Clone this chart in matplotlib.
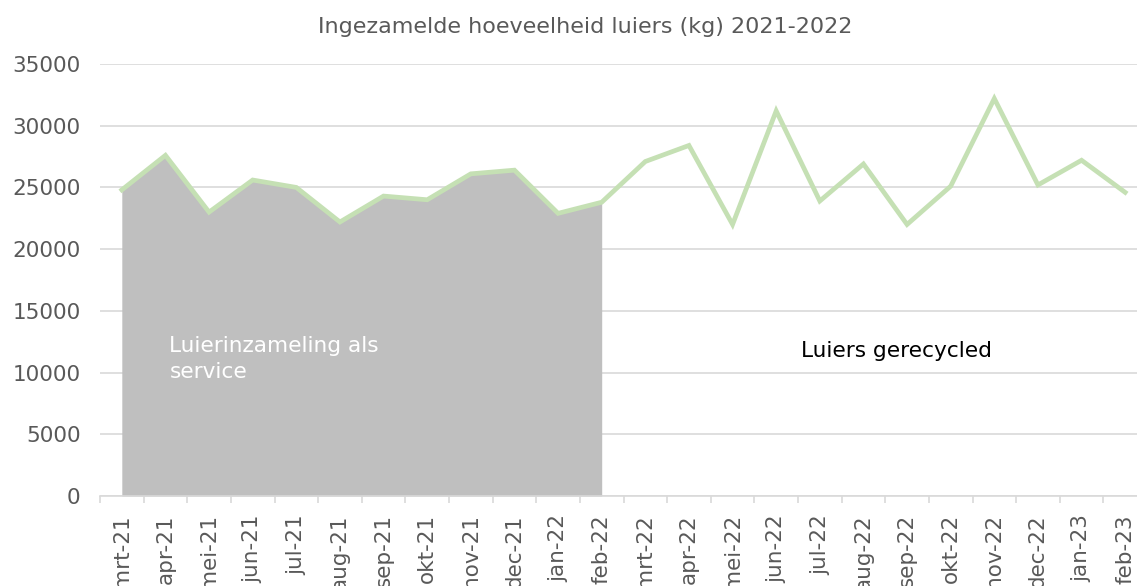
import numpy as np
import matplotlib
matplotlib.use('Agg')
from matplotlib import pyplot as plt
from matplotlib.ticker import FixedLocator

maanden = ['mrt-21', 'apr-21', 'mei-21', 'jun-21', 'jul-21', 'aug-21',
           'sep-21', 'okt-21', 'nov-21', 'dec-21', 'jan-22', 'feb-22',
           'mrt-22', 'apr-22', 'mei-22', 'jun-22', 'jul-22', 'aug-22',
           'sep-22', 'okt-22', 'nov-22', 'dec-22', 'jan-23', 'feb-23']
luiers_kg = [24800, 27600, 23000, 25600, 25000, 22200,
             24300, 24000, 26100, 26400, 22900, 23800,
             27100, 28400, 22000, 31200, 23900, 26900,
             22000, 25100, 32200, 25200, 27200, 24600]
n_service = 12  # eerste 12 maanden: inzameling als service

grijs = '#595959'
plt.rcParams['font.family'] = ['DejaVu Sans']

fig = plt.figure(figsize=(11.37, 5.86), dpi=100, facecolor='w')
ax = fig.add_axes([100 / 1137, 1 - 496 / 586, 1047 / 1137, 432 / 586])

x = np.arange(len(maanden))
ax.fill_between(x[:n_service], 0, luiers_kg[:n_service], color='#bfbfbf', lw=0, zorder=2)
ax.plot(x, luiers_kg, color='#c5e0b4', lw=3.4, solid_joinstyle='miter', zorder=3)

ax.set_xlim(-0.5, len(maanden) - 0.5)
ax.set_ylim(0, 35000)
ax.set_yticks(range(0, 35001, 5000))
ax.grid(axis='y', color='#d9d9d9', lw=1.2, zorder=0)
ax.set_axisbelow(True)

ax.set_xticks(x)
ax.set_xticklabels(maanden, rotation=90, fontsize=15.5, color=grijs)
ax.xaxis.set_minor_locator(FixedLocator(np.arange(-0.5, len(maanden), 1.0)))
ax.tick_params(axis='x', which='major', length=0, pad=13)
ax.tick_params(axis='x', which='minor', length=5, color='#d9d9d9', width=1.2)
ax.tick_params(axis='y', length=0, labelsize=15.5, labelcolor=grijs, pad=14)

for s in ['top', 'right', 'left']:
    ax.spines[s].set_visible(False)
ax.spines['bottom'].set_color('#d9d9d9')
ax.spines['bottom'].set_linewidth(1.2)

ax.text(1.09, 11100, 'Luierinzameling als\nservice', color='white', fontsize=15.6,
        va='center', ha='left', linespacing=1.32, zorder=4)
ax.text(15.58, 11750, 'Luiers gerecycled', color='black', fontsize=15.6,
        va='center', ha='left', zorder=4)

fig.text(585 / 1137, 1 - 27 / 586, 'Ingezamelde hoeveelheid luiers (kg) 2021-2022',
         ha='center', va='center', fontsize=16, color=grijs)

fig.savefig('out.png', dpi=100)
plt.close()
